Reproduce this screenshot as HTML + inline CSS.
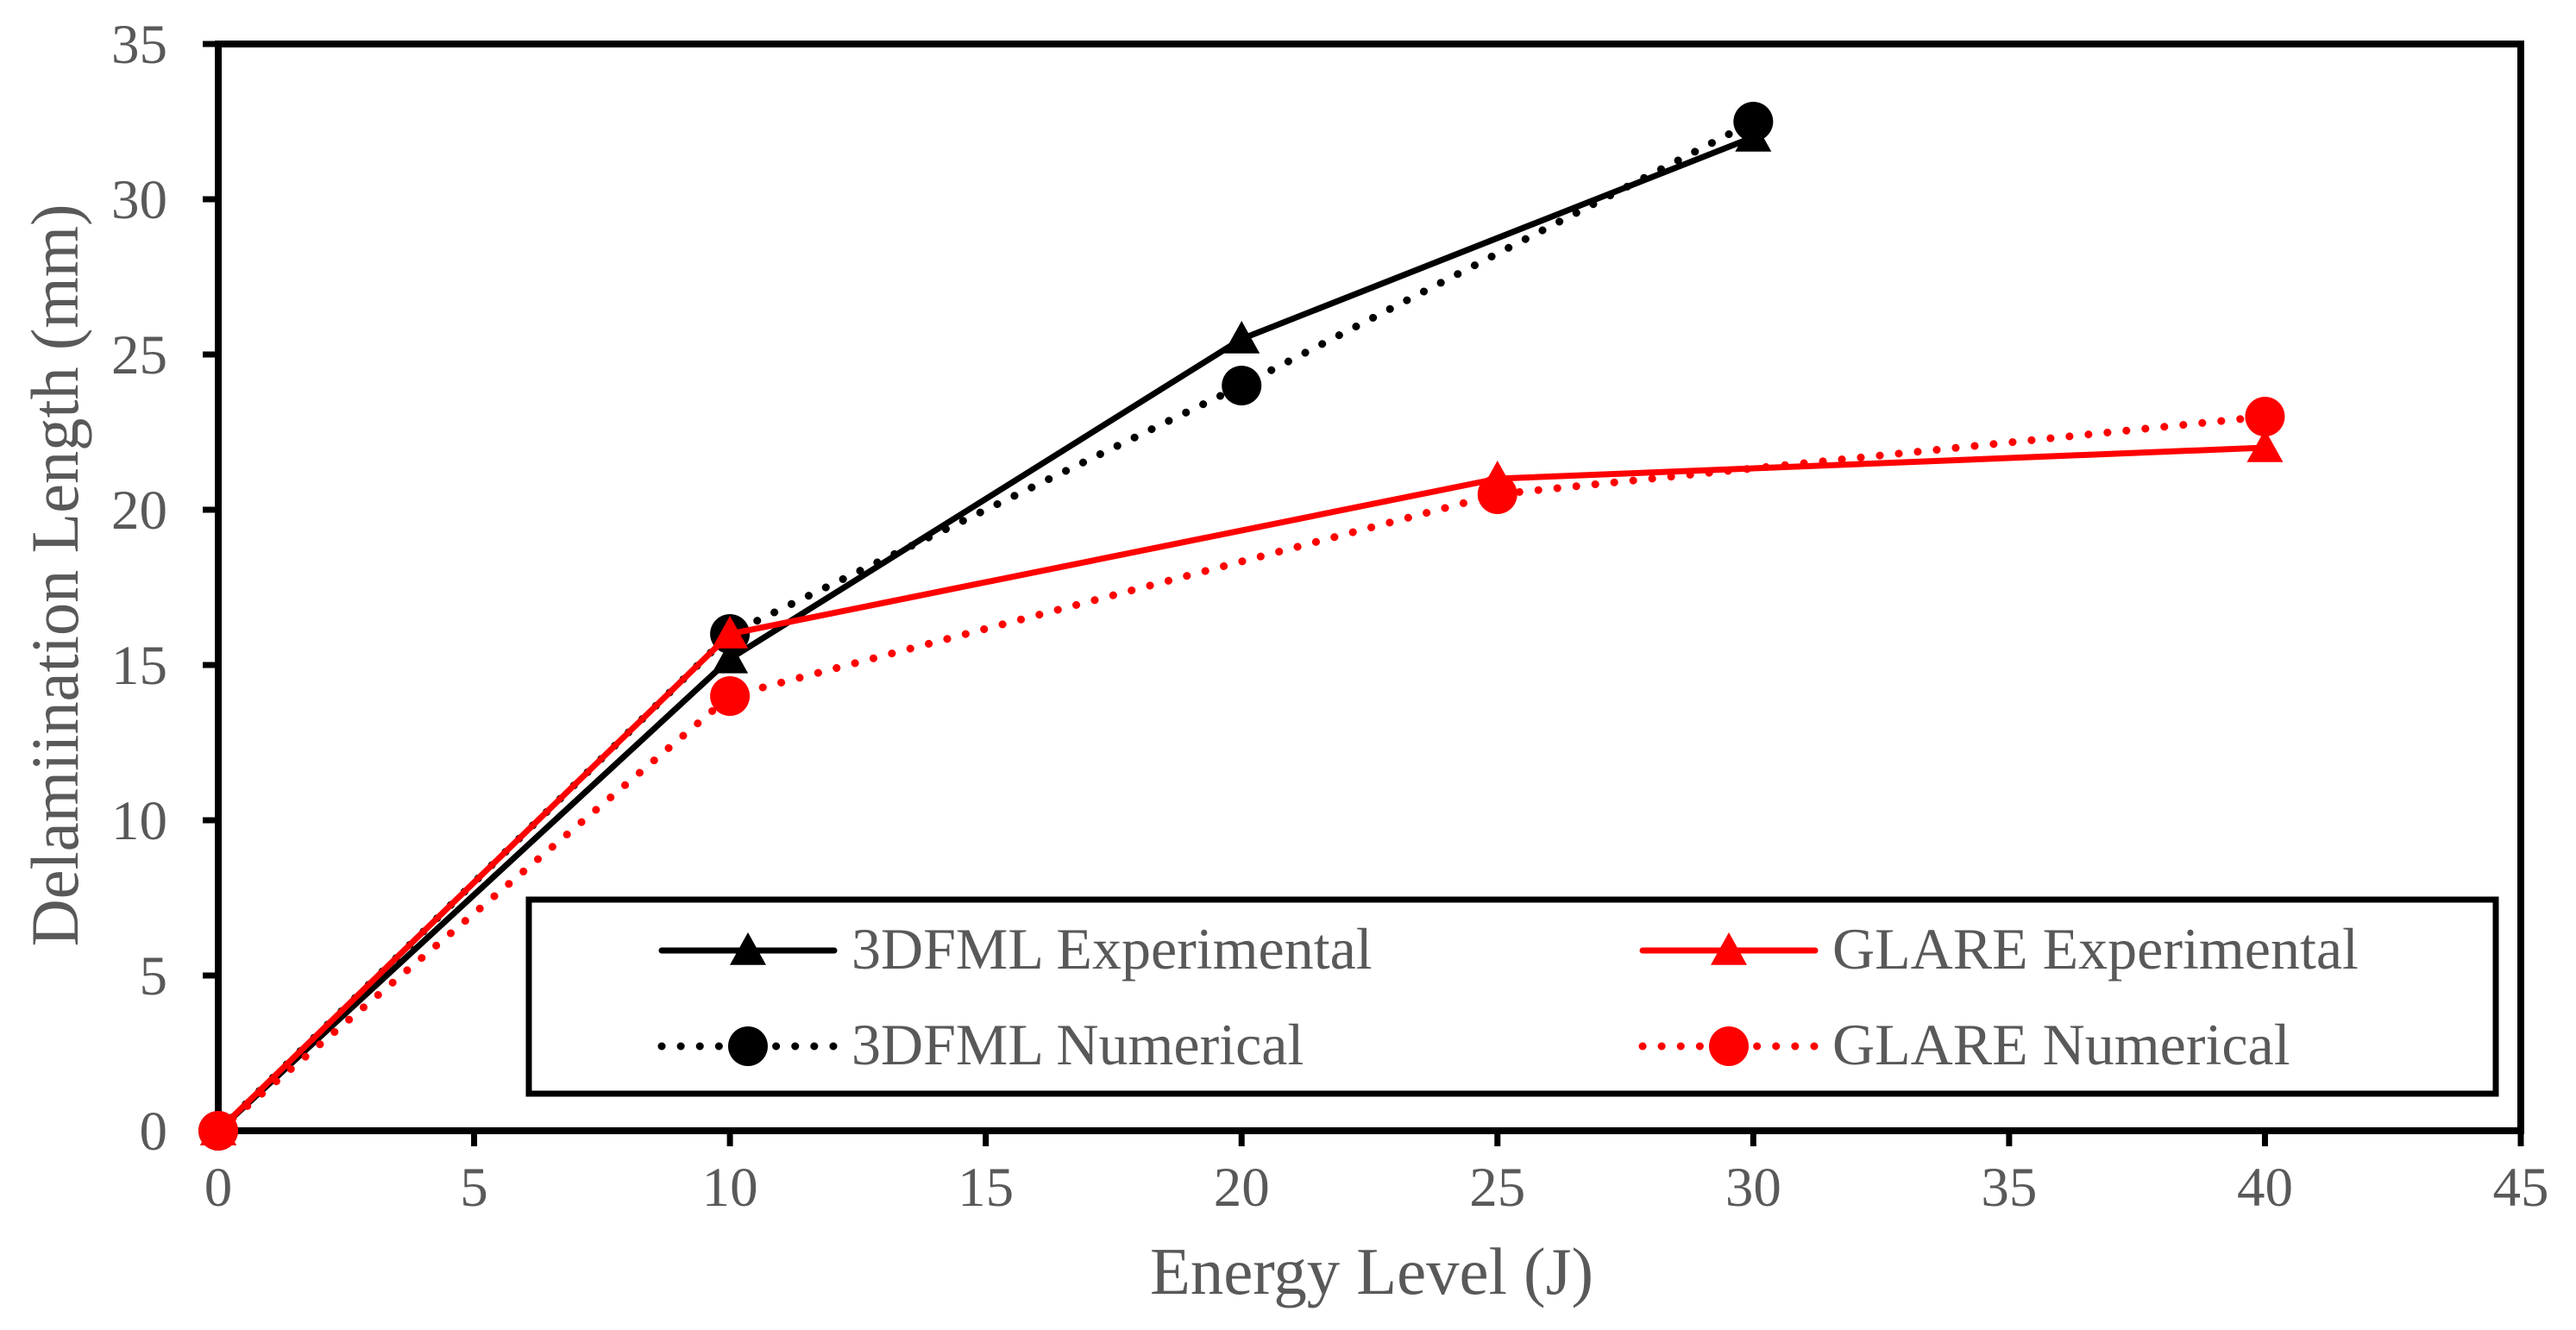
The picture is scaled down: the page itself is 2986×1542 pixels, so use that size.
<!DOCTYPE html>
<html><head><meta charset="utf-8"><style>
body{margin:0;background:#fff}
svg{display:block;font-family:"Liberation Serif",serif}
</style></head><body>
<svg id="c" width="2986" height="1542" viewBox="0 0 2986 1542"></svg>
<script>
const xTicks=[0,5,10,15,20,25,30,35,40,45];
const yTicks=[0,5,10,15,20,25,30,35];
const x3DExp=[0,10,20,30];
const y3DExp=[0,15.2,25.5,32];
const x3DNum=[0,10,20,30];
const y3DNum=[0,16,24,32.5];
const xGlExp=[0,10,25,40];
const yGlExp=[0,16,21,22];
const xGlNum=[0,10,25,40];
const yGlNum=[0,14,20.5,23];
const L=253,R=2922,T=51,B=1311;
const sx=v=>L+(v-0)/45*(R-L);
const sy=v=>B-(v-0)/35*(B-T);
const svg=document.getElementById('c');
const NS='http://www.w3.org/2000/svg';
function mk(tag,attrs,parent){const e=document.createElementNS(NS,tag);for(const k in attrs)e.setAttribute(k,attrs[k]);(parent||svg).appendChild(e);return e;}
const frame=mk('rect',{x:L,y:T,width:R-L,height:B-T,fill:'none',stroke:'#000','stroke-width':8});


xTicks.forEach(v=>{
  const t=mk('line',{x1:sx(v),x2:sx(v),y1:B,y2:B+18,stroke:'#000','stroke-width':7});
  
  
  const l=mk('text',{x:sx(v),y:1398,'text-anchor':'middle','font-size':65,fill:'#595959'});
  l.textContent=v;
  
  
});
yTicks.forEach(v=>{
  const t=mk('line',{x1:L-18,x2:L,y1:sy(v),y2:sy(v),stroke:'#000','stroke-width':7});
  
  
  const l=mk('text',{x:194,y:sy(v)+22,'text-anchor':'end','font-size':65,fill:'#595959'});
  l.textContent=v;
  
  
});
const xt=mk('text',{x:1590,y:1500,'text-anchor':'middle','font-size':77,fill:'#595959',textLength:514,lengthAdjust:'spacingAndGlyphs'});
xt.textContent='Energy Level (J)';


const yt=mk('text',{x:0,y:0,'text-anchor':'middle','font-size':78,fill:'#595959',textLength:861,lengthAdjust:'spacingAndGlyphs',transform:'translate(90,667) rotate(-90)'});
yt.textContent='Delamiination Length (mm)';


function marker(type,x,y,color,g){
  if(type==='tri'){const s=21;return mk('polygon',{points:`${x},${y-s} ${x-s},${y+s*0.8} ${x+s},${y+s*0.8}`,fill:color},g);}
  return mk('circle',{cx:x,cy:y,r:23,fill:color},g);
}
const series=[
 {name:'3dfml-experimental',xs:x3DExp,ys:y3DExp,color:'#000',dash:null,m:'tri'},
 {name:'3dfml-numerical',xs:x3DNum,ys:y3DNum,color:'#000',dash:'0.1 22',m:'circ'},
 {name:'glare-experimental',xs:xGlExp,ys:yGlExp,color:'#ff0000',dash:null,m:'tri'},
 {name:'glare-numerical',xs:xGlNum,ys:yGlNum,color:'#ff0000',dash:'0.1 22',m:'circ'}
];
series.forEach(s=>{
  const g=mk('g',{});
  
  
  const pts=s.xs.map((x,i)=>sx(x)+','+sy(s.ys[i])).join(' ');
  const a={points:pts,fill:'none',stroke:s.color,'stroke-width':s.dash?9:7,'stroke-linecap':'round','stroke-linejoin':'round'};
  if(s.dash)a['stroke-dasharray']=s.dash;
  const pl=mk('polyline',a,g);
  
  
  s.xs.forEach((x,i)=>{
    const m=marker(s.m,sx(x),sy(s.ys[i]),s.color,g);
    
    
  });
});
const lg=mk('g',{});


mk('rect',{x:613,y:1043,width:2280,height:225,fill:'#fff',stroke:'#000','stroke-width':7},lg);
const entries=[
 {s:series[0],x:767,y:1102,label:'3DFML Experimental'},
 {s:series[2],x:1904,y:1102,label:'GLARE Experimental'},
 {s:series[1],x:767,y:1213,label:'3DFML Numerical'},
 {s:series[3],x:1904,y:1213,label:'GLARE Numerical'}
];
entries.forEach(e=>{
  const g=mk('g',{},lg);
  
  
  const a={x1:e.x,x2:e.x+200,y1:e.y,y2:e.y,stroke:e.s.color,'stroke-width':e.s.dash?9:7,'stroke-linecap':'round'};
  if(e.s.dash)a['stroke-dasharray']=e.s.dash;
  mk('line',a,g);
  marker(e.s.m,e.x+100,e.y,e.s.color,g);
  const t=mk('text',{x:e.x+220,y:e.y+21,'font-size':68,fill:'#595959'},g);
  t.textContent=e.label;
});
</script>
</body></html>
